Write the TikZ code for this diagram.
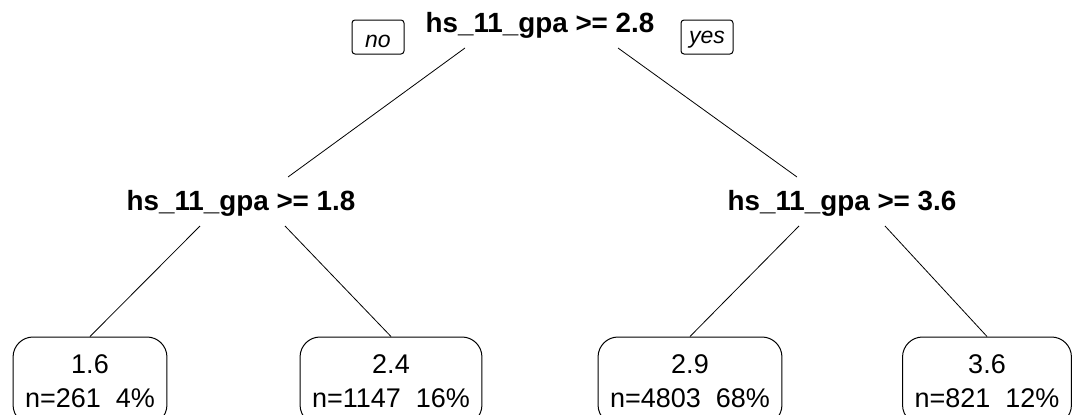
\documentclass[tikz,border=0pt]{standalone}
\usepackage{fontspec}
\setmainfont{Liberation Sans}
\begin{document}
\begin{tikzpicture}[x=1pt,y=-1pt,
  split/.style={font=\fontsize{27.8}{32}\selectfont\bfseries, inner sep=0pt, anchor=base},
  leaf/.style={draw, line width=1pt, rounded corners=20pt, font=\fontsize{27}{34}\selectfont,
    align=center, inner xsep=12pt, inner ysep=0pt, minimum height=88pt},
  lab/.style={draw, line width=1pt, rounded corners=3pt, font=\fontsize{23}{26}\selectfont\itshape,
    minimum width=52pt, minimum height=34pt, inner sep=0pt, text depth=0pt},
  edge/.style={line width=0.8pt}]
\path[use as bounding box, clip] (0,0) rectangle (1072,415);
% split nodes
\node[split] (root) at (540,32) {hs\_11\_gpa >= 2.8};
\node[split] (lm) at (241,210) {hs\_11\_gpa >= 1.8};
\node[split] (rm) at (842,210) {hs\_11\_gpa >= 3.6};
% no / yes labels
\node[lab, text height=20pt] (no) at (378,37) {no};
\node[lab, text height=13pt, text depth=1pt] (yes) at (707,37) {yes};
% leaves
\node[leaf] (l1) at (90,381) {1.6\\n=261\ \ 4\%};
\node[leaf] (l2) at (391,381) {2.4\\n=1147\ \ 16\%};
\node[leaf] (l3) at (690,381) {2.9\\n=4803\ \ 68\%};
\node[leaf] (l4) at (987,381) {3.6\\n=821\ \ 12\%};
% connectors
\draw[edge] ([xshift=-75pt,yshift=-16pt]root.base) -- ([xshift=47pt,yshift=33pt]lm.base);
\draw[edge] ([xshift=78pt,yshift=-16pt]root.base) -- ([xshift=-45pt,yshift=33pt]rm.base);
\draw[edge] ([xshift=-41pt,yshift=-16pt]lm.base) -- (l1.north);
\draw[edge] ([xshift=44pt,yshift=-16pt]lm.base) -- (l2.north);
\draw[edge] ([xshift=-43pt,yshift=-16pt]rm.base) -- (l3.north);
\draw[edge] ([xshift=43pt,yshift=-16pt]rm.base) -- (l4.north);
\end{tikzpicture}
\end{document}
